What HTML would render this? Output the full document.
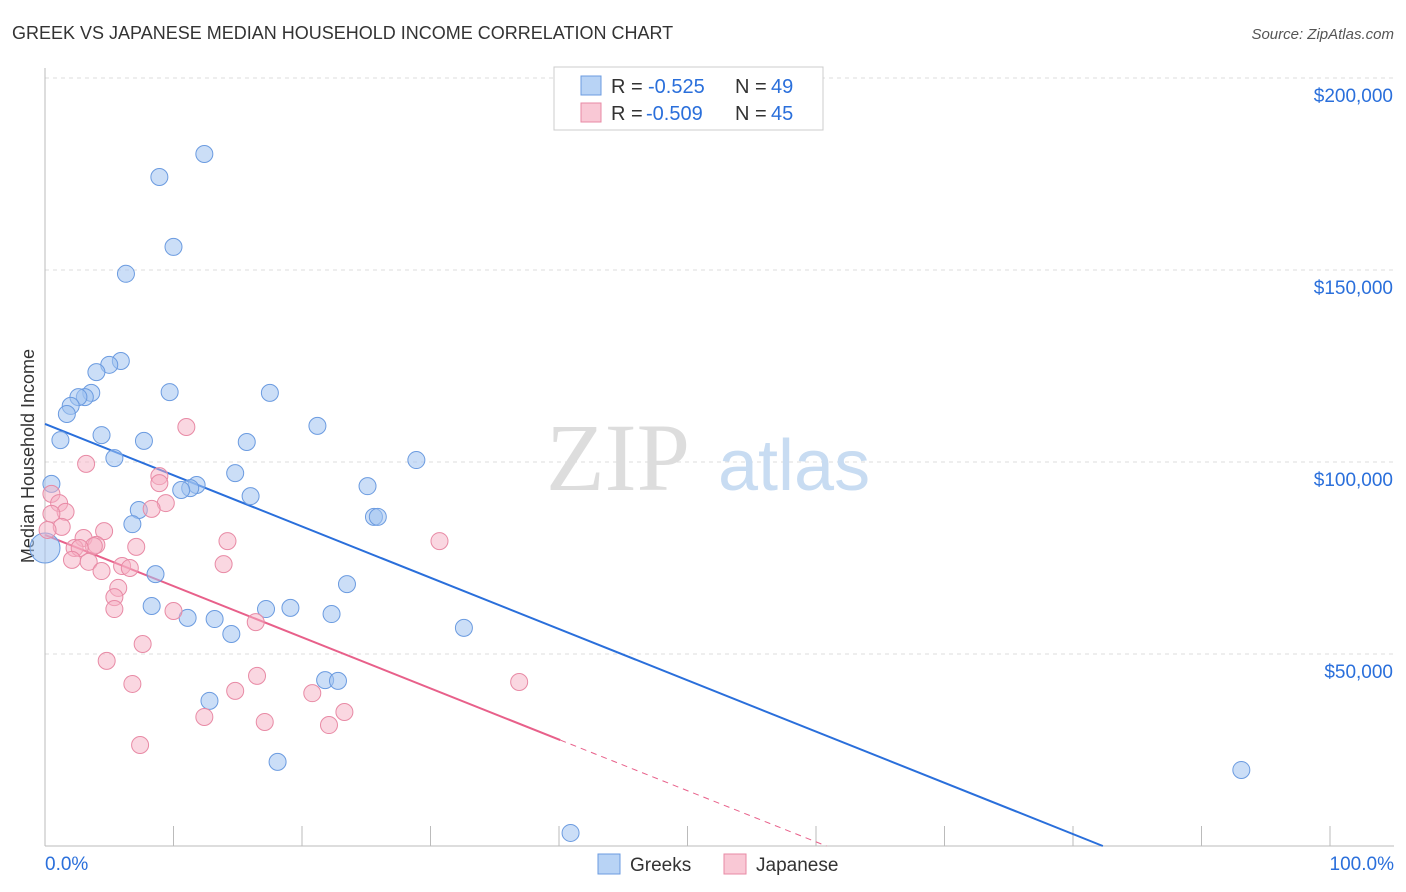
<!DOCTYPE html>
<html><head><meta charset="utf-8"><style>
body{margin:0;background:#fff;font-family:"Liberation Sans",sans-serif;}
svg{display:block}
</style></head><body>
<svg id="chart" width="1406" height="892">
<text x="12" y="39" font-size="18" fill="#333">GREEK VS JAPANESE MEDIAN HOUSEHOLD INCOME CORRELATION CHART</text>
<text x="1394" y="39" font-size="15" fill="#555" text-anchor="end" font-style="italic">Source: ZipAtlas.com</text>
<text transform="translate(34,456) rotate(-90)" font-size="18" fill="#333" text-anchor="middle">Median Household Income</text>
<g id="grid"></g>
<g id="watermark">
<text x="690" y="490" font-size="96" fill="#ddd" text-anchor="end" font-family="Liberation Serif,serif">ZIP</text>
<text x="718" y="490" font-size="72" fill="#c8dcf2">atlas</text>
</g>
<g id="lines"></g>
<g id="pts"></g>
<g>
<rect x="554" y="67" width="269" height="63" fill="#fff" stroke="#ccc"/>
<rect x="581" y="76" width="20" height="19" fill="#b8d3f5" stroke="#6b9be0"/>
<text x="611" y="93" font-size="20" fill="#333">R =</text>
<text x="648" y="93" font-size="20" fill="#2a6fdb">-0.525</text>
<text x="735" y="93" font-size="20" fill="#333">N =</text>
<text x="771" y="93" font-size="20" fill="#2a6fdb">49</text>
<rect x="581" y="103" width="20" height="19" fill="#f9c8d5" stroke="#e88aa5"/>
<text x="611" y="120" font-size="20" fill="#333">R =</text>
<text x="646" y="120" font-size="20" fill="#2a6fdb">-0.509</text>
<text x="735" y="120" font-size="20" fill="#333">N =</text>
<text x="771" y="120" font-size="20" fill="#2a6fdb">45</text>
</g>
<g>
<rect x="598" y="854" width="22" height="20" fill="#b8d3f5" stroke="#6b9be0"/>
<text x="630" y="871" font-size="19" fill="#333">Greeks</text>
<rect x="724" y="854" width="22" height="20" fill="#f9c8d5" stroke="#e88aa5"/>
<text x="756" y="871" font-size="19" fill="#333">Japanese</text>
</g>
</svg>
<script>
const yTicks=[50000,100000,150000,200000];
const yTickLabels=["$50,000","$100,000","$150,000","$200,000"];
const xTickLabels=["0.0%","100.0%"];
const greekX=[12.4,8.9,10.0,6.3,5.9,5.0,4.0,3.6,3.1,2.6,2.0,1.7,1.2,4.4,7.7,5.4,9.7,17.5,21.2,15.7,28.9,14.8,11.8,11.3,10.6,16.0,25.1,25.6,25.9,7.3,6.8,0.5,0.0,8.6,23.5,8.3,11.1,13.2,17.2,19.1,22.3,14.5,32.6,21.8,22.8,12.8,18.1,93.1,40.9];
const greekY=[180200,174200,156000,149000,126300,125300,123400,118000,116900,116900,114600,112500,105700,107000,105500,101000,118200,118000,109400,105200,100500,97100,94000,93200,92700,91100,93700,85700,85700,87500,83800,94300,77600,70800,68200,62500,59400,59100,61700,62000,60400,55200,56800,43200,43000,37800,21900,19800,3400];
const japX=[11.0,3.2,8.9,8.9,9.4,8.3,0.5,1.1,1.6,0.5,1.3,0.2,4.6,3.0,4.0,3.8,2.3,2.7,7.1,14.2,30.7,2.1,3.4,6.0,6.6,4.4,13.9,5.7,5.4,5.4,10.0,16.4,7.6,4.8,6.8,16.5,14.8,20.8,36.9,23.3,12.4,17.1,22.1,7.4];
const japY=[109100,99500,96300,94500,89300,87800,91700,89300,87000,86500,83100,82300,82000,80200,78400,78100,77600,77600,77900,79400,79400,74500,74000,72900,72400,71600,73400,67200,64800,61700,61200,58300,52600,48200,42200,44300,40400,39800,42700,34900,33600,32300,31500,26300];
const greekTrend=[109900,-1335];
const japTrend=[81000,-1332];
const japSolidEnd=40.1;
const NS="http://www.w3.org/2000/svg";
const X=v=>45+v*12.85, Y=v=>846-v/260.4;
function mk(t,a,p){const e=document.createElementNS(NS,t);for(const k in a)e.setAttribute(k,a[k]);p.appendChild(e);return e;}
const grid=document.getElementById('grid');
yTicks.forEach((t,i)=>{
 const l=mk('line',{x1:45,x2:1394,y1:Y(t),y2:Y(t),stroke:'#ddd','stroke-dasharray':'4,4'},grid);
 
 
 const tx=mk('text',{x:1393,y:Y(t)+24,'font-size':19,fill:'#2a6fdb','text-anchor':'end'},grid);
 tx.textContent=yTickLabels[i];
 
 
});
const ax=mk('line',{x1:45,x2:1394,y1:846,y2:846,stroke:'#bbb'},grid);


const ay=mk('line',{x1:45,x2:45,y1:68,y2:846,stroke:'#bbb'},grid);


for(let i=0;i<=10;i++){const t=mk('line',{x1:X(i*10),x2:X(i*10),y1:826,y2:846,stroke:'#bbb'},grid);
 
 }
[[0,'start',45],[100,'end',1394]].forEach((d,i)=>{const t=mk('text',{x:d[2],y:870,'font-size':19,fill:'#2a6fdb','text-anchor':d[1]},grid);t.textContent=xTickLabels[i];
 
 });
const lines=document.getElementById('lines');
const gEnd=-greekTrend[0]/greekTrend[1];
const gl=mk('line',{x1:X(0),y1:Y(greekTrend[0]),x2:X(gEnd),y2:Y(0),stroke:'#2a6fdb','stroke-width':2},lines);


const jv=x=>japTrend[0]+japTrend[1]*x;
const jl=mk('line',{x1:X(0),y1:Y(jv(0)),x2:X(japSolidEnd),y2:Y(jv(japSolidEnd)),stroke:'#e8608a','stroke-width':2},lines);


const jEnd=-japTrend[0]/japTrend[1];
const jd=mk('line',{x1:X(japSolidEnd),y1:Y(jv(japSolidEnd)),x2:X(jEnd),y2:Y(0),stroke:'#e8608a','stroke-width':1,'stroke-dasharray':'6,5'},lines);


const pts=document.getElementById('pts');
greekX.forEach((x,i)=>{const c=mk('circle',{cx:X(x),cy:Y(greekY[i]),r:(x===0?15:8.5),fill:'rgba(160,195,240,0.55)',stroke:'#6b9be0','stroke-width':1},pts);
 
 });
japX.forEach((x,i)=>{const c=mk('circle',{cx:X(x),cy:Y(japY[i]),r:8.5,fill:'rgba(245,175,195,0.5)',stroke:'#e88aa5','stroke-width':1},pts);
 
 });
</script>
</body></html>
